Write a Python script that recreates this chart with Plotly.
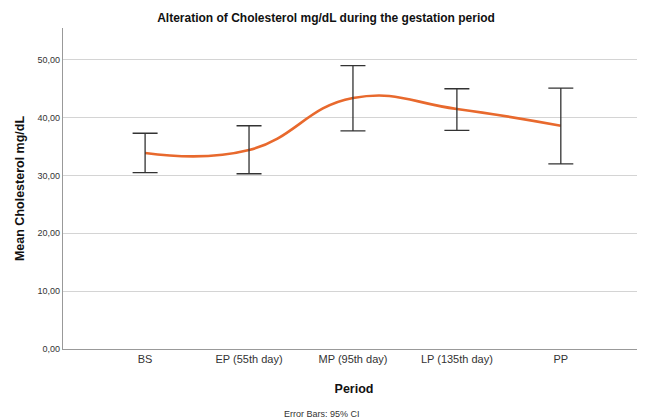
import plotly.graph_objects as go

periods = ["BS", "EP (55th day)", "MP (95th day)", "LP (135th day)", "PP"]
means = [33.9, 34.4, 43.4, 41.5, 38.6]
ci_upper = [37.3, 38.6, 49.0, 45.0, 45.1]
ci_lower = [30.5, 30.3, 37.7, 37.8, 32.0]

x_idx = list(range(len(periods)))
err_plus = [u - m for u, m in zip(ci_upper, means)]
err_minus = [m - l for m, l in zip(means, ci_lower)]

fig = go.Figure()
fig.add_trace(go.Scatter(
    x=x_idx, y=means, mode="lines",
    line=dict(color="#e8692d", width=2.6, shape="spline", smoothing=1.3),
    hoverinfo="skip", showlegend=False,
))
fig.add_trace(go.Scatter(
    x=x_idx, y=means, mode="markers",
    marker=dict(size=1, color="rgba(0,0,0,0)"),
    error_y=dict(type="data", symmetric=False, array=err_plus, arrayminus=err_minus,
                 color="#333333", thickness=1.3, width=12.5),
    showlegend=False,
))

fig.update_layout(
    width=645, height=420,
    margin=dict(l=55, r=8, t=20, b=79),
    paper_bgcolor="white", plot_bgcolor="white",
    separators=",.",
    font=dict(family="Liberation Sans, Arial", color="#222222"),
    title=dict(text="<b>Alteration of Cholesterol mg/dL during the gestation period</b>",
               x=0.452, xref="paper", xanchor="center", y=0.976, yanchor="middle",
               font=dict(size=12, color="#111111", family="Liberation Sans, Arial")),
    xaxis=dict(
        tickmode="array", tickvals=x_idx, ticktext=periods,
        range=[-0.79, 4.81], showgrid=False, zeroline=False,
        showline=True, linecolor="#999999", linewidth=1.2, ticks="",
        tickfont=dict(size=11, color="#333333"),
        title=dict(text="<b>Period</b>", font=dict(size=12.5, color="#111111"), standoff=19),
    ),
    yaxis=dict(
        range=[0, 55.5], tickvals=[0, 10, 20, 30, 40, 50], tickformat=".2f",
        showgrid=True, gridcolor="#d4d4d4", gridwidth=1, zeroline=False,
        showline=True, linecolor="#999999", linewidth=1.2, ticks="",
        tickfont=dict(size=9, color="#333333"),
        title=dict(text="<b>Mean Cholesterol mg/dL</b>", font=dict(size=12.5, color="#111111"), standoff=10),
    ),
    annotations=[dict(text="Error Bars: 95% CI", xref="paper", yref="paper",
                      x=0.445, y=-0.2025, xanchor="center", yanchor="middle",
                      showarrow=False, font=dict(size=9, color="#333333"))],
)

fig.write_html("out.html")
